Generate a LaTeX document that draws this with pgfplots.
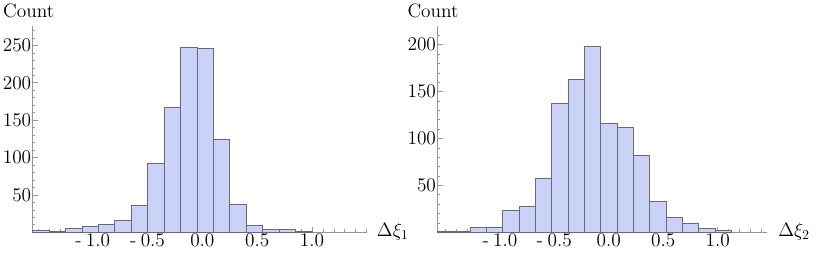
\RequirePackage{fix-cm}
\documentclass[border=0pt]{standalone}
\usepackage{pgfplots}
\pgfplotsset{compat=1.18}
\definecolor{barfill}{rgb}{0.798,0.825,0.968}
\definecolor{baredge}{RGB}{105,105,120}
\definecolor{axgray}{RGB}{150,150,150}
\newcommand{\lblfont}{\fontsize{14.5}{17}\selectfont}
\pgfplotsset{
  histo/.style={
    scale only axis, height=154.7pt,
    axis x line*=bottom, axis y line*=left,
    axis line style={axgray, line width=0.5pt, -},
    every tick/.style={axgray, line width=0.45pt},
    tick align=inside,
    major tick length=4pt, minor tick length=2.2pt,
    ymin=0,
    xtick={-1,-0.5,0,0.5,1},
    xticklabels={{-\:1.0},{-\:0.5},0.0,0.5,1.0},
    minor xtick={-1.5,-1.4,...,1.45},
    ytick={50,100,150,200,250},
    /pgf/number format/assume math mode=true,
    tick label style={font=\lblfont, text=black},
    yticklabel style={inner xsep=0.8pt},
    xticklabel style={inner ysep=1.2pt},
    clip=false,
  }
}
\begin{document}
\begin{tikzpicture}
\useasboundingbox (-24.4pt,-16.3pt) rectangle (588.4pt,174.2pt);
% Left histogram
\begin{axis}[histo, at={(0,0)}, anchor=south west,
  width=250.65pt, xmin=-1.55, xmax=1.5, ymax=276,
  minor ytick={10,20,...,270}]
\addplot[ybar interval, fill=barfill, draw=baredge, line width=0.5pt] coordinates {
(-1.55,2) (-1.4,1) (-1.25,5) (-1.1,8) (-0.95,11) (-0.8,16) (-0.65,36) (-0.5,92)
(-0.35,167) (-0.2,247) (-0.05,246) (0.1,125) (0.25,37) (0.4,9) (0.55,4) (0.7,4)
(0.85,1) (1.0,0)};
\node[anchor=base west, inner sep=0, font=\lblfont, xshift=-22.2pt, yshift=6.5pt] at (rel axis cs:0,1) {Count};
\node[anchor=base west, inner sep=0, font=\lblfont, xshift=7.5pt, yshift=-3.5pt] at (rel axis cs:1,0) {$\Delta\xi_1$};
\end{axis}
% Right histogram
\begin{axis}[histo, at={(303.6pt,0)}, anchor=south west,
  width=247.05pt, xmin=-1.575, xmax=1.45, ymax=220,
  minor ytick={10,20,...,210}]
\addplot[ybar interval, fill=barfill, draw=baredge, line width=0.5pt] coordinates {
(-1.575,1) (-1.425,1) (-1.275,5) (-1.125,5) (-0.975,23) (-0.825,28) (-0.675,58)
(-0.525,137) (-0.375,163) (-0.225,198) (-0.075,116) (0.075,112) (0.225,82)
(0.375,33) (0.525,16) (0.675,9) (0.825,4) (0.975,2) (1.125,0)};
\node[anchor=base west, inner sep=0, font=\lblfont, xshift=-22.5pt, yshift=6.5pt] at (rel axis cs:0,1) {Count};
\node[anchor=base west, inner sep=0, font=\lblfont, xshift=8.5pt, yshift=-3.5pt] at (rel axis cs:1,0) {$\Delta\xi_2$};
\end{axis}
\end{tikzpicture}
\end{document}
